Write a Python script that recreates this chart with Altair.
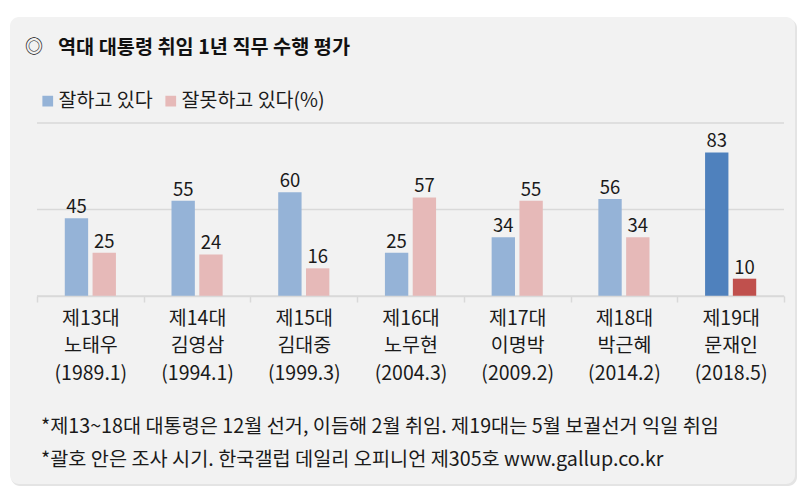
import altair as alt
import pandas as pd

# ---- data ----
presidents = ["제13대|노태우|(1989.1)", "제14대|김영삼|(1994.1)", "제15대|김대중|(1999.3)",
              "제16대|노무현|(2004.3)", "제17대|이명박|(2009.2)", "제18대|박근혜|(2014.2)",
              "제19대|문재인|(2018.5)"]
approve = [45, 55, 60, 25, 34, 56, 83]
disapprove = [25, 24, 16, 57, 55, 34, 10]
series_names = ["잘하고 있다", "잘못하고 있다(%)"]
grid_values = [0, 50, 100]
title_text = "역대 대통령 취임 1년 직무 수행 평가"
footnotes = ["*제13~18대 대통령은 12월 선거, 이듬해 2월 취임. 제19대는 5월 보궐선거 익일 취임",
             "*괄호 안은 조사 시기. 한국갤럽 데일리 오피니언 제305호 www.gallup.co.kr"]

FONT = "Noto Sans CJK KR"
W, H = 747, 173

rows = []
for i, p in enumerate(presidents):
    last = i == len(presidents) - 1
    for s, v in zip(series_names, (approve[i], disapprove[i])):
        rows.append({"pres": p, "series": s, "value": v,
                     "ckey": s + (" 19" if last else "")})
df = pd.DataFrame(rows)

color_domain = ["잘하고 있다", "잘못하고 있다(%)", "잘하고 있다 19", "잘못하고 있다(%) 19"]
color_range = ["#95b3d7", "#e6b9b8", "#4f81bd", "#c0504d"]

one = pd.DataFrame({"k": [0]})

shadow = alt.Chart(one).mark_rect(cornerRadius=9, fill="#e4e4e4").encode(
    x=alt.value(-26), x2=alt.value(W + 13), y=alt.value(-104), y2=alt.value(H + 190))
bg = alt.Chart(one).mark_rect(cornerRadius=9, fill="#f2f2f2").encode(
    x=alt.value(-27), x2=alt.value(W + 11), y=alt.value(-106), y2=alt.value(H + 188))

yscale = alt.Scale(domain=[0, 100])

grid = alt.Chart(pd.DataFrame({"value": grid_values})).mark_rule(
    color="#d9d9d9", strokeWidth=1.5).encode(
    y=alt.Y("value:Q", scale=yscale, axis=None))

xenc = alt.X("pres:N", sort=presidents, scale=alt.Scale(paddingInner=0, paddingOuter=0),
             axis=alt.Axis(title=None, labelAngle=0, labelExpr="split(datum.label, '|')",
                           labelFontSize=19.5, labelLineHeight=27.5, labelColor="#1a1a1a",
                           labelFont=FONT, tickBand="extent", tickColor="#d9d9d9",
                           tickSize=6, tickWidth=1.5, domainColor="#d9d9d9", domainWidth=1.5,
                           labelPadding=7, grid=False, zindex=1))
xoff = alt.XOffset("series:N", sort=series_names,
                   scale=alt.Scale(paddingInner=0.16, paddingOuter=1))

bars = alt.Chart(df).mark_bar().encode(
    x=xenc, xOffset=xoff, y=alt.Y("value:Q", scale=yscale, axis=None),
    color=alt.Color("ckey:N", scale=alt.Scale(domain=color_domain, range=color_range),
                    legend=alt.Legend(values=series_names, title=None, orient="none",
                                      legendX=1, legendY=-32, direction="horizontal",
                                      symbolType="square", symbolSize=115,
                                      labelFontSize=19.5, labelFont=FONT, labelColor="#1a1a1a",
                                      labelOffset=1, columnPadding=8, symbolStrokeWidth=0)))

labels = alt.Chart(df).mark_text(fontSize=18.5, font=FONT, color="#1a1a1a",
                                 baseline="bottom", dy=-1).encode(
    x=alt.X("pres:N", sort=presidents), xOffset=xoff,
    y=alt.Y("value:Q", scale=yscale, axis=None),
    text=alt.Text("value:Q"))

tdf = pd.DataFrame({"t": [title_text]})
title_sym = alt.Chart(tdf).mark_text(text="◎", fontSize=18, font=FONT, color="#1a1a1a",
                                     align="center", baseline="middle").encode(
    x=alt.value(-3), y=alt.value(-75))
title = alt.Chart(tdf).mark_text(fontSize=19.7, font=FONT, fontWeight="bold", color="#111111",
                                 align="left", baseline="middle").encode(
    x=alt.value(21), y=alt.value(-75), text="t:N")

fdf = pd.DataFrame({"t": ["\n".join(footnotes)]})
foot = alt.Chart(fdf).mark_text(fontSize=19.7, font=FONT, color="#1a1a1a", lineBreak="\n",
                                lineHeight=33, align="left", baseline="middle").encode(
    x=alt.value(4), y=alt.value(304), text="t:N")

chart = alt.layer(shadow, bg, grid, bars, labels, title_sym, title, foot).properties(
    width=W, height=H,
    autosize=alt.AutoSizeParams(type="none"),
    padding={"left": 29, "top": 115, "right": 16, "bottom": 190},
).configure_view(stroke=None).configure(background="white")

chart.save("out.html", embed_options={"renderer": "svg", "actions": False})
